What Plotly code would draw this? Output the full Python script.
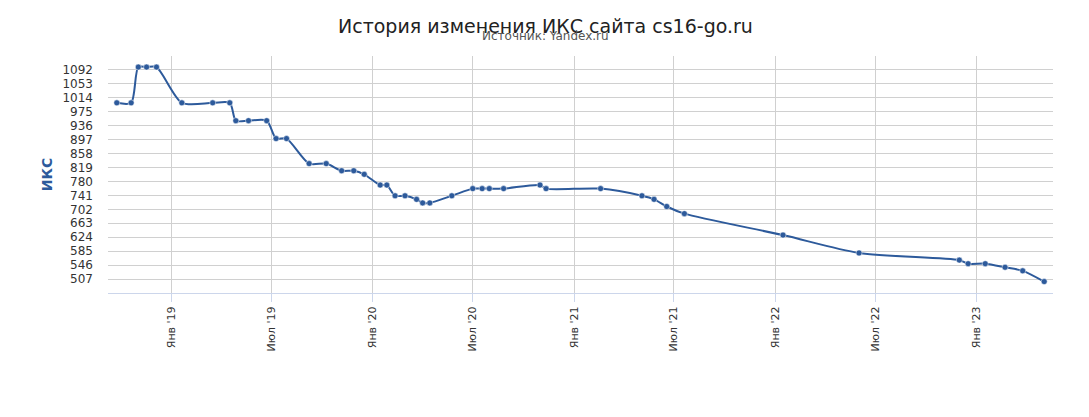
import plotly.graph_objects as go

# ИКС history
dates = [
    "2018-09-24", "2018-10-20", "2018-11-02", "2018-11-17", "2018-12-05",
    "2019-01-20", "2019-03-17", "2019-04-17", "2019-04-28", "2019-05-21",
    "2019-06-23", "2019-07-10", "2019-07-29", "2019-09-08", "2019-10-09",
    "2019-11-06", "2019-11-28", "2019-12-17", "2020-01-15", "2020-01-27",
    "2020-02-11", "2020-02-29", "2020-03-21", "2020-04-01", "2020-04-14",
    "2020-05-24", "2020-07-01", "2020-07-18", "2020-07-31", "2020-08-26",
    "2020-10-31", "2020-11-11", "2021-02-18", "2021-05-04", "2021-05-26",
    "2021-06-18", "2021-07-20", "2022-01-15", "2022-06-02", "2022-12-01",
    "2022-12-17", "2023-01-17", "2023-02-22", "2023-03-26", "2023-05-04",
]
iks = [
    1000, 1000, 1100, 1100, 1100,
    1000, 1000, 1000, 950, 950,
    950, 900, 900, 830, 830,
    810, 810, 800, 770, 770,
    740, 740, 730, 720, 720,
    740, 760, 760, 760, 760,
    770, 760, 760, 740, 730,
    710, 690, 630, 580, 560,
    550, 550, 540, 530, 500,
]

y_ticks = [507, 546, 585, 624, 663, 702, 741, 780, 819, 858, 897, 936, 975, 1014, 1053, 1092]
x_ticks = ["2019-01-01", "2019-07-01", "2020-01-01", "2020-07-01", "2021-01-01",
           "2021-07-01", "2022-01-01", "2022-07-01", "2023-01-01"]
x_labels = ["Янв '19", "Июл '19", "Янв '20", "Июл '20", "Янв '21",
            "Июл '21", "Янв '22", "Июл '22", "Янв '23"]

line_color = "#2d5a9b"
font = "DejaVu Sans"

fig = go.Figure()
fig.add_trace(go.Scatter(
    x=dates, y=iks,
    mode="lines+markers",
    line=dict(color=line_color, width=2, shape="spline", smoothing=0.75),
    marker=dict(color=line_color, size=6, line=dict(color="white", width=0.5)),
    hoverinfo="x+y",
))

fig.update_layout(
    width=1089, height=417,
    margin=dict(l=100, r=44, t=48, b=132),
    paper_bgcolor="white", plot_bgcolor="white",
    showlegend=False,
    font=dict(family=font, size=11, color="#333"),
)

fig.update_xaxes(
    range=["2018-09-08", "2023-05-20"],
    tickvals=x_ticks, ticktext=x_labels, tickangle=-90,
    showgrid=True, gridcolor="#d0d0d0", gridwidth=1,
    showline=True, linecolor="#ccd6eb", linewidth=1,
    ticks="outside", ticklen=8, tickcolor="#ccd6eb",
    tickfont=dict(family=font, size=11, color="#333"),
    zeroline=False,
)
fig.update_yaxes(
    range=[468, 1131],
    tickvals=[468] + y_ticks + [1131],
    ticktext=[""] + [str(v) for v in y_ticks] + [""],
    showgrid=True, gridcolor="#d0d0d0", gridwidth=1,
    showline=False, zeroline=False,
    ticks="", ticklabelstandoff=14,
    tickfont=dict(family=font, size=12, color="#333"),
    title=dict(text="<b>ИКС</b>", font=dict(family=font, size=14, color=line_color), standoff=6),
)

# title and subtitle are centred on the whole page, not on the plot area
fig.add_annotation(
    text="История изменения ИКС сайта cs16-go.ru",
    xref="paper", yref="paper", x=0.5, y=1, xshift=-35, yshift=30,
    xanchor="center", yanchor="middle", showarrow=False,
    font=dict(family=font, size=19, color="#222"),
)
fig.add_annotation(
    text="Источник: Yandex.ru",
    xref="paper", yref="paper", x=0.5, y=1, xshift=-35, yshift=20,
    xanchor="center", yanchor="middle", showarrow=False,
    font=dict(family=font, size=12, color="#555"),
)

fig.write_html("out.html")
